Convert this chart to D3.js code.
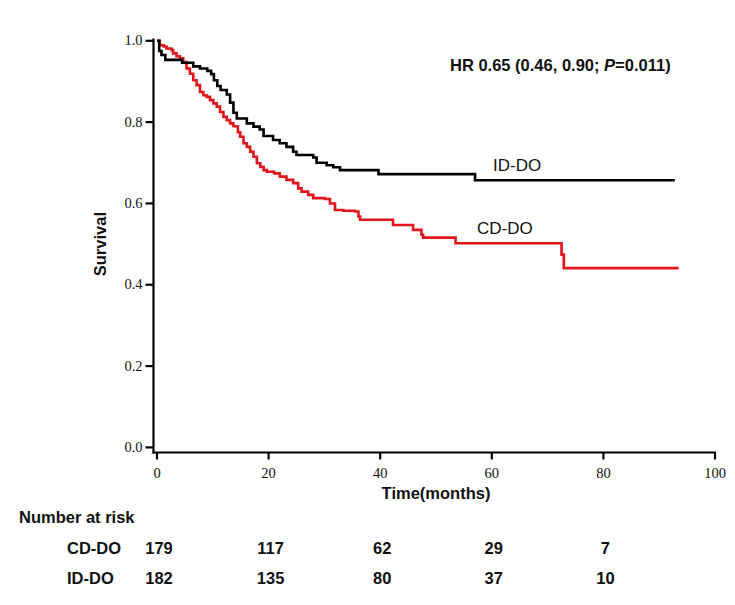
<!DOCTYPE html>
<html>
<head>
<meta charset="utf-8">
<script src="https://cdn.jsdelivr.net/npm/d3@7"></script>
<style>
  html, body { margin: 0; padding: 0; background: #fff; }
  svg { display: block; }
</style>
</head>
<body>
<svg id="chart" width="735" height="605"></svg>
<script>
// ---------- data ----------
const xTicks = [0, 20, 40, 60, 80, 100];
const yTicks = [0, 0.2, 0.4, 0.6, 0.8, 1.0];

// ID-DO (black) Kaplan-Meier steps: time at which survival drops, and new survival
const idTimes = [0, 0.4, 0.8, 1.5, 4.5, 6.5, 7.7, 9.0, 9.7, 10.2, 10.8, 11.4, 12.5, 13.1, 13.7, 14.3,
  16.1, 17.3, 18.4, 19.1, 20.8, 22.0, 23.2, 24.4, 25.0, 28.0, 28.6, 30.4, 31.6, 32.8, 39.7, 57.0, 92.8];
const idSurv = [1.0, 0.975, 0.965, 0.953, 0.946, 0.937, 0.932, 0.926, 0.918, 0.903, 0.889, 0.879, 0.868,
  0.848, 0.823, 0.809, 0.797, 0.789, 0.782, 0.766, 0.756, 0.748, 0.739, 0.727, 0.719, 0.713, 0.700,
  0.694, 0.689, 0.682, 0.672, 0.657, 0.657];

// CD-DO (red)
const cdTimes = [0, 0.5, 1.2, 1.7, 2.6, 2.9, 3.5, 4.1, 4.7, 5.3, 5.9, 6.5, 7.1, 7.7, 8.3, 8.9, 9.5, 10.1,
  10.7, 11.3, 11.9, 12.5, 13.1, 13.7, 14.5, 14.9, 15.5, 16.1, 16.7, 17.3, 17.9, 18.5, 19.1, 19.7, 21.0,
  22.0, 23.2, 24.4, 25.3, 25.9, 27.1, 28.0, 30.1, 31.0, 31.9, 33.4, 35.5, 36.1, 36.4, 42.3, 45.9, 47.4,
  47.7, 53.5, 72.5, 72.9, 93.5];
const cdSurv = [1.0, 0.989, 0.986, 0.981, 0.977, 0.969, 0.962, 0.957, 0.948, 0.932, 0.919, 0.903, 0.891,
  0.874, 0.866, 0.862, 0.854, 0.846, 0.838, 0.825, 0.813, 0.805, 0.797, 0.790, 0.775, 0.764, 0.748,
  0.739, 0.727, 0.715, 0.699, 0.690, 0.682, 0.678, 0.674, 0.666, 0.658, 0.650, 0.637, 0.629, 0.621,
  0.613, 0.611, 0.600, 0.584, 0.582, 0.580, 0.568, 0.560, 0.547, 0.535, 0.523, 0.516, 0.502, 0.474,
  0.441, 0.441];

const groups = ["CD-DO", "ID-DO"];
const riskTimes = [0, 20, 40, 60, 80];
const riskCD = [179, 117, 62, 29, 7];
const riskID = [182, 135, 80, 37, 10];
const hrText = { pre: "HR 0.65 (0.46, 0.90; ", p: "P", post: "=0.011)" };

// ---------- drawing ----------
const svg = d3.select("#chart");
const x = d3.scaleLinear().domain([0, 100]).range([157, 715]);
const y = d3.scaleLinear().domain([0, 1]).range([447.4, 40.8]);
const xAxisY = 452.5;
const yAxisX = 153.5;

// axes lines
svg.append("line").attr("x1", yAxisX).attr("x2", yAxisX).attr("y1", 38.5).attr("y2", xAxisY + 1)
  .attr("stroke", "#000").attr("stroke-width", 2.2);
svg.append("line").attr("x1", yAxisX - 1).attr("x2", x(100) + 1).attr("y1", xAxisY).attr("y2", xAxisY)
  .attr("stroke", "#000").attr("stroke-width", 2.2);

// x ticks
const xg = svg.append("g");
xTicks.forEach(t => {
  xg.append("line").attr("x1", x(t)).attr("x2", x(t)).attr("y1", xAxisY).attr("y2", xAxisY + 7)
    .attr("stroke", "#000").attr("stroke-width", 2.2);
  xg.append("text").attr("x", x(t)).attr("y", 478).attr("text-anchor", "middle")
    .attr("font-family", "Liberation Serif, Times New Roman, serif").attr("font-size", 14.5)
    .attr("fill", "#111").text(t);
});

// y ticks
const yg = svg.append("g");
yTicks.forEach(v => {
  yg.append("line").attr("x1", yAxisX - 8).attr("x2", yAxisX).attr("y1", y(v)).attr("y2", y(v))
    .attr("stroke", "#000").attr("stroke-width", 2.2);
  yg.append("text").attr("x", 142.5).attr("y", y(v) + 4.5).attr("text-anchor", "end")
    .attr("font-family", "Liberation Serif, Times New Roman, serif").attr("font-size", 14.5)
    .attr("fill", "#111").text(d3.format(".1f")(v));
});

// axis titles
svg.append("text").attr("x", x(50)).attr("y", 499).attr("text-anchor", "middle")
  .attr("font-family", "Liberation Sans, Arial, sans-serif").attr("font-weight", "bold")
  .attr("font-size", 16.5).attr("fill", "#111").text("Time(months)");
svg.append("text").attr("transform", `translate(106,${(y(0) + y(1)) / 2}) rotate(-90)`)
  .attr("text-anchor", "middle")
  .attr("font-family", "Liberation Sans, Arial, sans-serif").attr("font-weight", "bold")
  .attr("font-size", 16.5).attr("fill", "#111").text("Survival");

// curves
const line = d3.line().x(d => x(d[0])).y(d => y(d[1])).curve(d3.curveStepAfter);
const idData = idTimes.map((t, i) => [t, idSurv[i]]);
const cdData = cdTimes.map((t, i) => [t, cdSurv[i]]);
svg.append("path").datum(cdData).attr("d", line).attr("fill", "none")
  .attr("stroke", "#e3151b").attr("stroke-width", 2.6);
svg.append("path").datum(idData).attr("d", line).attr("fill", "none")
  .attr("stroke", "#000").attr("stroke-width", 2.6);

// curve labels
svg.append("text").attr("x", 493).attr("y", 170.5)
  .attr("font-family", "Liberation Sans, Arial, sans-serif").attr("font-size", 17)
  .attr("fill", "#111").text(groups[1]);
svg.append("text").attr("x", 477).attr("y", 234)
  .attr("font-family", "Liberation Sans, Arial, sans-serif").attr("font-size", 17)
  .attr("fill", "#111").text(groups[0]);

// HR text
const hr = svg.append("text").attr("x", 450).attr("y", 71)
  .attr("font-family", "Liberation Sans, Arial, sans-serif").attr("font-weight", "bold")
  .attr("font-size", 16.5).attr("fill", "#111");
hr.append("tspan").text(hrText.pre);
hr.append("tspan").attr("font-style", "italic").text(hrText.p);
hr.append("tspan").text(hrText.post);

// risk table
const bold = sel => sel.attr("font-family", "Liberation Sans, Arial, sans-serif")
  .attr("font-weight", "bold").attr("font-size", 16.5).attr("fill", "#111");
svg.append("text").attr("x", 19).attr("y", 523).call(bold).text("Number at risk");
const rows = [[groups[0], riskCD, 553.5], [groups[1], riskID, 583.5]];
rows.forEach(([name, vals, yy]) => {
  svg.append("text").attr("x", 67).attr("y", yy).call(bold).text(name);
  vals.forEach((v, i) => {
    svg.append("text").attr("x", x(riskTimes[i]) + 2).attr("y", yy).attr("text-anchor", "middle")
      .call(bold).text(v);
  });
});
</script>
</body>
</html>
